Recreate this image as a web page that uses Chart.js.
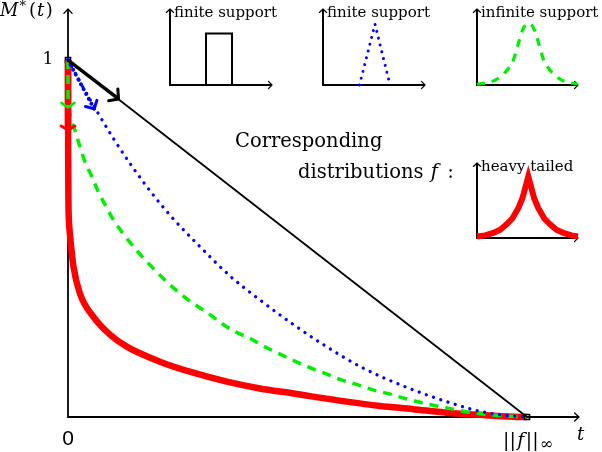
<!DOCTYPE html>
<html><head><meta charset="utf-8">
<script src="https://cdn.jsdelivr.net/npm/chart.js@4.4.1/dist/chart.umd.min.js"></script>
<style>
html,body{margin:0;padding:0;background:#fff;}
#wrap{position:relative;width:602px;height:452px;overflow:hidden;background:#fff;}
#wrap canvas{position:absolute;}
</style></head><body>
<div id="wrap">
<canvas id="cMain" width="602" height="452" style="left:0;top:0;width:602px;height:452px"></canvas>
<canvas id="cBox" width="130" height="95" style="left:160px;top:0;width:130px;height:95px"></canvas>
<canvas id="cTri" width="130" height="95" style="left:313px;top:0;width:130px;height:95px"></canvas>
<canvas id="cBell" width="137" height="95" style="left:465px;top:0;width:137px;height:95px"></canvas>
<canvas id="cHeavy" width="137" height="100" style="left:465px;top:150px;width:137px;height:100px"></canvas>
</div>
<script>
// ---------- main chart data: M*(t) ----------
const tBlack = [0, 1];
const mBlack = [1, 0];
const tBlue = [0,0.03,0.065,0.1,0.139,0.19,0.233,0.28,0.353,0.418,0.49,0.556,0.643,0.738,0.825,0.898,0.95,1];
const mBlue = [1,0.93,0.852,0.778,0.703,0.615,0.55,0.487,0.395,0.328,0.26,0.203,0.137,0.083,0.043,0.016,0.005,0];
const tGreen = [0,0.001,0.004,0.015,0.026,0.037,0.052,0.066,0.081,0.099,0.12,0.146,0.168,0.193,0.219,0.248,0.273,0.306,0.335,0.364,0.397,0.429,0.462,0.495,0.531,0.564,0.596,0.632,0.665,0.702,0.734,0.771,0.803,0.839,0.876,0.912,0.95,1];
const mGreen = [1,0.9,0.85,0.804,0.757,0.715,0.673,0.631,0.594,0.552,0.514,0.472,0.44,0.407,0.374,0.342,0.318,0.29,0.262,0.239,0.22,0.197,0.176,0.156,0.136,0.12,0.104,0.09,0.076,0.064,0.052,0.04,0.031,0.022,0.013,0.007,0.003,0];
const tRed = [0,0.0003,0.001,0.002,0.004,0.012,0.026,0.055,0.092,0.128,0.2,0.273,0.346,0.418,0.491,0.534,0.607,0.68,0.752,0.825,0.898,0.97,1];
const mRed = [1,0.75,0.6,0.55,0.515,0.421,0.346,0.281,0.23,0.197,0.155,0.124,0.099,0.08,0.066,0.057,0.043,0.031,0.022,0.012,0.006,0.001,0];
// initial-slope arrows [from, to] in (t, M) units
const arrowBlack = [[0,1],[0.11,0.891]];
const arrowBlue  = [[0,1],[0.057,0.863]];
const arrowGreen = [[0,1],[0,0.867]];
const arrowRed   = [[0,1],[0,0.804]];
// tick labels
const xTickValues = [0, 1];
const xTickLabels = ['0', '||f||∞'];
const yTickValues = [1];
const yTickLabels = ['1'];

// ---------- inset data: distributions f ----------
const xBox = [0.353,0.353,0.608,0.608];
const fBox = [0,0.678,0.678,0];
const xTri = [0.358,0.51,0.657];
const fTri = [0,0.80,0];
const xBell = [0,0.1,0.18,0.25,0.31,0.36,0.41,0.45,0.48,0.508,0.54,0.57,0.61,0.66,0.71,0.77,0.84,0.92,1];
const fBell = [0.01,0.03,0.065,0.13,0.217,0.33,0.55,0.72,0.79,0.81,0.79,0.72,0.55,0.33,0.217,0.13,0.065,0.03,0.01];
const xHeavy = [0,0.08,0.16,0.23,0.29,0.35,0.41,0.45,0.48,0.508,0.536,0.566,0.606,0.666,0.726,0.786,0.856,0.936,1];
const fHeavy = [0.02,0.035,0.067,0.11,0.178,0.26,0.40,0.53,0.68,0.82,0.68,0.53,0.40,0.26,0.178,0.11,0.067,0.035,0.02];

const SERIF = '"DejaVu Serif", serif';
const pts = (xs, ys) => xs.map((x, i) => ({x: x, y: ys[i]}));

function head(ctx, x, y, ang, len, half, lw, col) {
  ctx.save();
  ctx.strokeStyle = col; ctx.lineWidth = lw; ctx.setLineDash([]);
  ctx.lineCap = 'round'; ctx.lineJoin = 'round';
  ctx.beginPath();
  ctx.moveTo(x - len * Math.cos(ang - half), y - len * Math.sin(ang - half));
  ctx.lineTo(x, y);
  ctx.lineTo(x - len * Math.cos(ang + half), y - len * Math.sin(ang + half));
  ctx.stroke();
  ctx.restore();
}
function drawRuns(ctx, x, y, runs) {
  for (const r of runs) {
    ctx.font = r.f;
    const dx = r.dx || 0;
    ctx.fillText(r.t, x + dx, y + (r.dy || 0));
    x += dx + ctx.measureText(r.t).width;
  }
  return x;
}
function runsWidth(ctx, runs) {
  let w = 0;
  for (const r of runs) { ctx.font = r.f; w += (r.dx || 0) + ctx.measureText(r.t).width; }
  return w;
}

const mainDecor = {
  id: 'mainDecor',
  beforeDatasetsDraw(chart) {
    const {ctx, chartArea: a} = chart;
    ctx.save();
    ctx.strokeStyle = '#000'; ctx.lineWidth = 1.8;
    ctx.beginPath();
    ctx.moveTo(a.left, a.top); ctx.lineTo(a.left, a.bottom); ctx.lineTo(a.right, a.bottom);
    ctx.stroke();
    ctx.restore();
    head(ctx, a.left, a.top, -Math.PI / 2, 6, 0.75, 1.3, '#000');
    head(ctx, a.right, a.bottom, 0, 6, 0.75, 1.3, '#000');
  },
  afterDatasetsDraw(chart) {
    const {ctx, scales: {x: xs, y: ys}, chartArea: a} = chart;
    const P = p => [xs.getPixelForValue(p[0]), ys.getPixelForValue(p[1])];
    const seg = (arr, col, lw, dash, cap) => {
      const [x1, y1] = P(arr[0]), [x2, y2] = P(arr[1]);
      ctx.save();
      ctx.strokeStyle = col; ctx.lineWidth = lw; ctx.setLineDash(dash); ctx.lineCap = cap;
      ctx.beginPath(); ctx.moveTo(x1, y1); ctx.lineTo(x2, y2); ctx.stroke();
      ctx.restore();
      return Math.atan2(y2 - y1, x2 - x1);
    };
    let ang = seg(arrowRed, '#ff0000', 6.5, [], 'butt');
    let [hx, hy] = P(arrowRed[1]); head(ctx, hx, hy, ang, 8, 1.05, 3, '#ff0000');
    ang = seg(arrowGreen, '#00ee00', 3.5, [9, 6], 'butt');
    [hx, hy] = P(arrowGreen[1]); head(ctx, hx, hy, ang, 8, 0.95, 2.6, '#00ee00');
    ang = seg(arrowBlue, '#0000ff', 4, [0.01, 5.5], 'round');
    [hx, hy] = P(arrowBlue[1]); head(ctx, hx, hy, ang, 9, 0.8, 3, '#0000ff');
    ang = seg(arrowBlack, '#000', 3.5, [], 'butt');
    [hx, hy] = P(arrowBlack[1]); head(ctx, hx, hy, ang, 10, 0.85, 3, '#000');

    ctx.save();
    ctx.fillStyle = '#000';
    ctx.textBaseline = 'alphabetic';
    const x0 = xs.getPixelForValue(xTickValues[0]);
    ctx.font = '21px "Liberation Sans", sans-serif';
    ctx.textAlign = 'center';
    ctx.fillText(xTickLabels[0], x0, a.bottom + 28);
    ctx.textAlign = 'left';
    const x1 = xs.getPixelForValue(xTickValues[1]);
    const lab = xTickLabels[1];
    const runs = [
      {t: lab.slice(0, 2), f: '19px ' + SERIF},
      {t: lab.slice(2, 3), f: 'italic 19px ' + SERIF, dx: 1.5},
      {t: lab.slice(3, 5), f: '19px ' + SERIF, dx: 1.5},
      {t: lab.slice(5), f: '16px ' + SERIF, dy: 3, dx: 1}
    ];
    drawRuns(ctx, x1 - runsWidth(ctx, runs) / 2 + 1, a.bottom + 29, runs);
    ctx.font = '17px ' + SERIF;
    ctx.textAlign = 'center';
    ctx.fillText(yTickLabels[0], 48, ys.getPixelForValue(yTickValues[0]) + 4);
    ctx.textAlign = 'left';
    ctx.font = 'italic 18px ' + SERIF;
    ctx.fillText('t', a.right - 2, a.bottom + 23);
    drawRuns(ctx, 0, 16, [
      {t: 'M', f: 'italic 18px ' + SERIF},
      {t: '*', f: '13px ' + SERIF, dy: -6, dx: 1},
      {t: '(', f: '18px ' + SERIF, dx: 3},
      {t: 't', f: 'italic 18px ' + SERIF, dx: 1},
      {t: ')', f: '18px ' + SERIF, dx: 1.5}
    ]);
    ctx.font = '19.5px ' + SERIF;
    ctx.fillText('Corresponding', 235, 147);
    drawRuns(ctx, 298, 178, [
      {t: 'distributions ', f: '19.5px ' + SERIF},
      {t: 'f', f: 'italic 19.5px ' + SERIF, dx: 1},
      {t: ' :', f: '19.5px ' + SERIF, dx: 3}
    ]);
    ctx.restore();
  }
};

new Chart(document.getElementById('cMain'), {
  type: 'scatter',
  data: {
    datasets: [
      {data: pts(tBlack, mBlack), showLine: true, borderColor: '#000', borderWidth: 1.8,
       pointStyle: 'rect', pointRadius: 3.6, pointBorderWidth: 1.6, pointBorderColor: '#000',
       pointBackgroundColor: 'rgba(0,0,0,0)', order: 0, clip: false},
      {data: pts(tBlue, mBlue), showLine: true, borderColor: '#0000ff', borderWidth: 3.3,
       borderDash: [0.01, 7.6], borderCapStyle: 'round', pointRadius: 0,
       cubicInterpolationMode: 'monotone', order: 1, clip: false},
      {data: pts(tGreen, mGreen), showLine: true, borderColor: '#00ee00', borderWidth: 3.5,
       borderDash: [9, 7], borderCapStyle: 'butt', pointRadius: 0,
       cubicInterpolationMode: 'monotone', order: 2, clip: false},
      {data: pts(tRed, mRed), showLine: true, borderColor: '#ff0000', borderWidth: 6.5,
       pointRadius: 0, cubicInterpolationMode: 'monotone', order: 3, clip: false}
    ]
  },
  options: {
    responsive: false, animation: false, devicePixelRatio: 1, events: [],
    layout: {padding: {left: 68, right: 23, top: 9, bottom: 35}},
    scales: {
      x: {type: 'linear', min: 0, max: 1.1133, display: false},
      y: {type: 'linear', min: 0, max: 1.1429, display: false}
    },
    plugins: {legend: {display: false}, tooltip: {enabled: false}}
  },
  plugins: [mainDecor]
});

// ---------- insets ----------
const insetDecor = {
  id: 'insetDecor',
  beforeDatasetsDraw(chart) {
    const {ctx, chartArea: a} = chart;
    ctx.save();
    ctx.strokeStyle = '#000'; ctx.lineWidth = 2;
    ctx.beginPath();
    ctx.moveTo(a.left, a.top); ctx.lineTo(a.left, a.bottom); ctx.lineTo(a.right, a.bottom);
    ctx.stroke();
    ctx.restore();
    head(ctx, a.left, a.top, -Math.PI / 2, 5, 0.8, 1.2, '#000');
    head(ctx, a.right, a.bottom, 0, 5, 0.8, 1.2, '#000');
  },
  afterDatasetsDraw(chart, args, opts) {
    const {ctx, chartArea: a} = chart;
    ctx.save();
    ctx.fillStyle = '#000';
    ctx.font = '15px ' + SERIF;
    ctx.textAlign = 'left'; ctx.textBaseline = 'alphabetic';
    ctx.fillText(opts.title, a.left + 4, a.top + 7.5);
    ctx.restore();
  }
};

function makeInset(id, canvasBox, axisBox, title, xs, ys, style) {
  new Chart(document.getElementById(id), {
    type: 'scatter',
    data: {datasets: [Object.assign({data: pts(xs, ys), showLine: true, pointRadius: 0, clip: false}, style)]},
    options: {
      responsive: false, animation: false, devicePixelRatio: 1, events: [],
      layout: {padding: {
        left: axisBox.left - canvasBox.left,
        top: axisBox.top - canvasBox.top,
        right: canvasBox.left + canvasBox.width - axisBox.right,
        bottom: canvasBox.top + canvasBox.height - axisBox.bottom
      }},
      scales: {
        x: {type: 'linear', min: 0, max: 1, display: false},
        y: {type: 'linear', min: 0, max: 1, display: false}
      },
      plugins: {legend: {display: false}, tooltip: {enabled: false}, insetDecor: {title: title}}
    },
    plugins: [insetDecor]
  });
}

makeInset('cBox', {left: 160, top: 0, width: 130, height: 95}, {left: 170, top: 9, right: 272, bottom: 85},
  'finite support', xBox, fBox, {borderColor: '#000', borderWidth: 2, tension: 0});
makeInset('cTri', {left: 313, top: 0, width: 130, height: 95}, {left: 323, top: 9, right: 425, bottom: 85},
  'finite support', xTri, fTri, {borderColor: '#0000ff', borderWidth: 3, borderDash: [0.01, 7], borderCapStyle: 'round', tension: 0});
makeInset('cBell', {left: 465, top: 0, width: 137, height: 95}, {left: 477, top: 9, right: 578, bottom: 85},
  'infinite support', xBell, fBell, {borderColor: '#00ee00', borderWidth: 3.2, borderDash: [8, 7], cubicInterpolationMode: 'monotone'});
makeInset('cHeavy', {left: 465, top: 150, width: 137, height: 100}, {left: 477, top: 163, right: 578, bottom: 238},
  'heavy tailed', xHeavy, fHeavy, {borderColor: '#ff0000', borderWidth: 6, tension: 0});
</script>
</body></html>
